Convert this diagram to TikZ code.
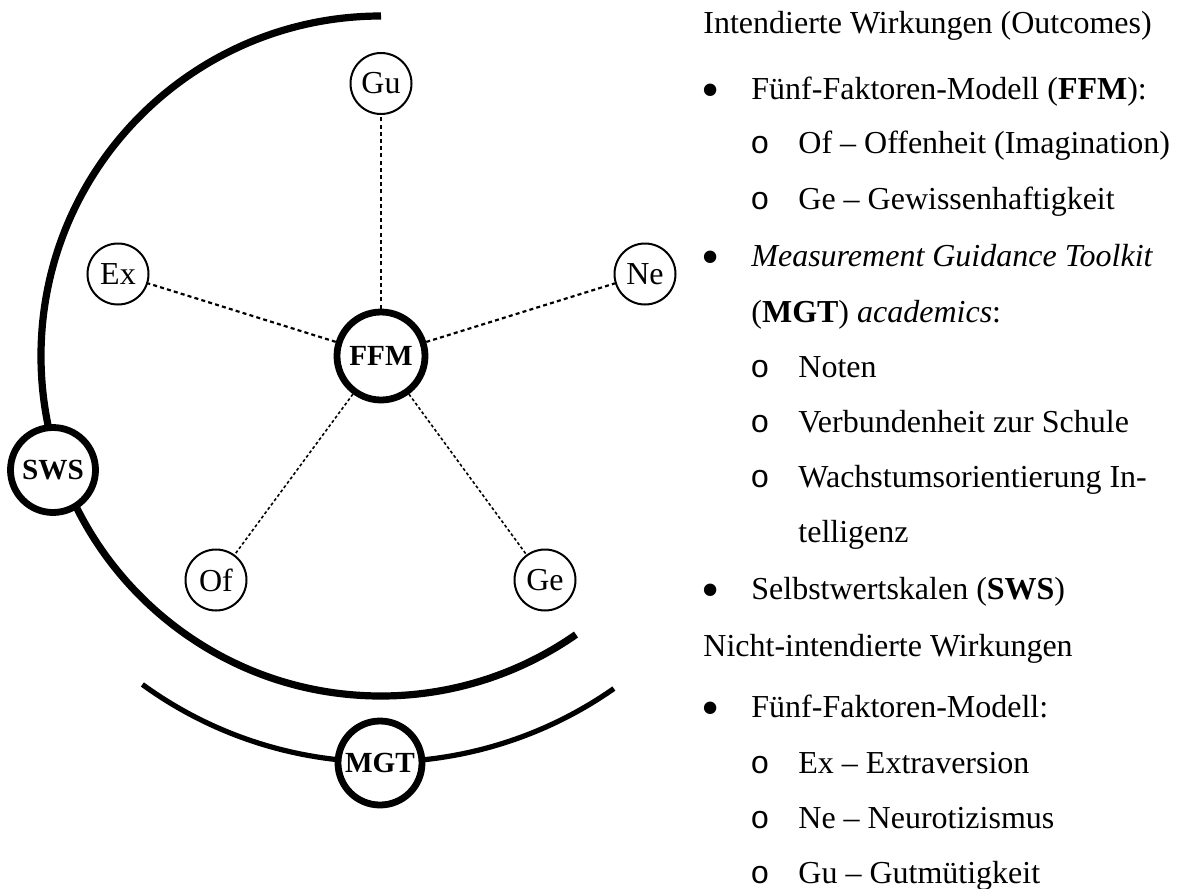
\documentclass[tikz,border=0pt]{standalone}
\usepackage{fontspec}
\setmainfont{Liberation Serif}
\newfontfamily\monofnt{Liberation Mono}
\begin{document}
\begin{tikzpicture}[x=0.5pt,y=0.5pt,
  txt/.style={anchor=base west, inner sep=0pt, font=\fontsize{16pt}{19pt}\selectfont},
  bul/.style={anchor=center, inner sep=0pt, font=\fontsize{26pt}{30pt}\selectfont},
  subbul/.style={anchor=base, inner sep=0pt, font=\monofnt\fontsize{16pt}{19pt}\selectfont},
  hub/.style={circle, draw, fill=white, line width=3.4pt, minimum size=44pt, inner sep=0pt, font=\bfseries\fontsize{14.6pt}{18pt}\selectfont},
  leaf/.style={circle, draw, fill=white, line width=1pt, minimum size=30.5pt, inner sep=0pt, font=\fontsize{16pt}{19pt}\selectfont},
  arcA/.style={line width=3.6pt},
  arcB/.style={line width=2.6pt},
  dotA/.style={line width=1.1pt, dash pattern=on 2pt off 1.6pt},
  dotB/.style={line width=0.8pt, dash pattern=on 1.5pt off 1.2pt}]
\useasboundingbox (0,0) rectangle (1179,-889);
\coordinate (c) at (381,-356);
% arcs
\draw[arcA] ([shift={(90:170pt)}]c) arc[start angle=90,end angle=305,radius=170pt];
\draw[arcB] ([shift={(234:203pt)}]c) arc[start angle=234,end angle=305,radius=203pt];
% nodes
\node[hub] (ffm) at (c) {FFM};
\node[hub, minimum size=42.5pt] (sws) at (53,-470) {SWS};
\node[hub, minimum size=42pt] (mgt) at (380,-763) {MGT};
\node[leaf] (gu) at (381,-83.5) {Gu};
\node[leaf] (ex) at (118,-274) {Ex};
\node[leaf] (ne) at (645,-274) {Ne};
\node[leaf] (of) at (216,-580) {Of};
\node[leaf] (ge) at (545,-580) {Ge};
% connectors
\draw[dotA] (ffm) -- (gu);
\draw[dotA] (ffm) -- (ex);
\draw[dotA] (ffm) -- (ne);
\draw[dotB] (ffm) -- (of);
\draw[dotB] (ffm) -- (ge);
% text list
\node[txt] (t1) at (703,-33) {Intendierte Wirkungen (Outcomes)};
\node[bul] (b1) at (711,-96) {•};
\node[txt] (t2) at (751,-99) {Fünf-Faktoren-Modell (\textbf{FFM}):};
\node[subbul] (o1) at (760,-153) {o};
\node[txt] (t3) at (798,-153) {Of – Offenheit (Imagination)};
\node[subbul] (o2) at (760,-209) {o};
\node[txt] (t4) at (798,-209) {Ge – Gewissenhaftigkeit};
\node[bul] (b2) at (711,-263) {•};
\node[txt] (t5) at (751,-266) {\textit{Measurement Guidance Toolkit}};
\node[txt] (t6) at (751,-322) {(\textbf{MGT}) \textit{academics}:};
\node[subbul] (o3) at (760,-377) {o};
\node[txt] (t7) at (798,-377) {Noten};
\node[subbul] (o4) at (760,-432) {o};
\node[txt] (t8) at (798,-432) {Verbundenheit zur Schule};
\node[subbul] (o5) at (760,-487) {o};
\node[txt] (t9) at (798,-487) {Wachstumsorientierung In-};
\node[txt] (t10) at (798,-542) {telligenz};
\node[bul] (b3) at (711,-596) {•};
\node[txt] (t11) at (751,-599) {Selbstwertskalen (\textbf{SWS})};
\node[txt] (t12) at (703,-656) {Nicht-intendierte Wirkungen};
\node[bul] (b4) at (711,-714) {•};
\node[txt] (t13) at (751,-717) {Fünf-Faktoren-Modell:};
\node[subbul] (o6) at (760,-773) {o};
\node[txt] (t14) at (798,-773) {Ex – Extraversion};
\node[subbul] (o7) at (760,-828) {o};
\node[txt] (t15) at (798,-828) {Ne – Neurotizismus};
\node[subbul] (o8) at (760,-883) {o};
\node[txt] (t16) at (798,-883) {Gu – Gutmütigkeit};
\end{tikzpicture}
\end{document}
